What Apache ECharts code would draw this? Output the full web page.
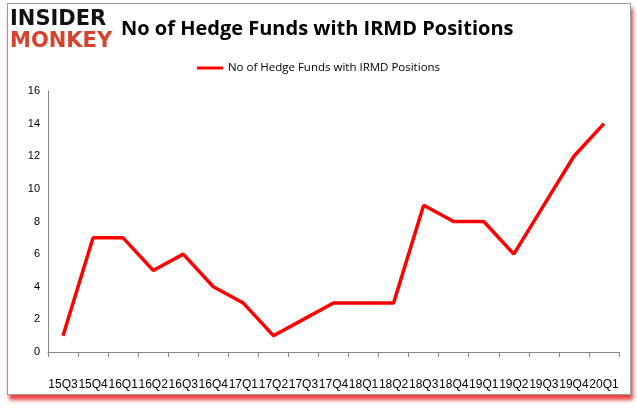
<!DOCTYPE html>
<html><head><meta charset="utf-8">
<script src="https://cdn.jsdelivr.net/npm/echarts@6/dist/echarts.min.js"></script>
<style>
html,body{margin:0;padding:0;background:#fff;}
#frame{position:absolute;left:7px;top:3px;width:622px;height:390px;border:1px solid #9a9a9a;box-shadow:2px 5px 4px rgba(230,0,0,0.75);background:#fff;}
#c{position:absolute;left:0;top:0;width:637px;height:408px;}
</style></head>
<body>
<div id="frame"></div>
<div id="c"></div>
<script>
const categories = ["15Q3","15Q4","16Q1","16Q2","16Q3","16Q4","17Q1","17Q2","17Q3","17Q4","18Q1","18Q2","18Q3","18Q4","19Q1","19Q2","19Q3","19Q4","20Q1"];
const values = [1,7,7,5,6,4,3,1,2,3,3,3,9,8,8,6,9,12,14];
const seriesName = "No of Hedge Funds with IRMD Positions";
const chart = echarts.init(document.getElementById('c'), null, {renderer:'canvas'});
chart.setOption({
  animation:false,
  backgroundColor:'transparent',
  title:{text:'No of Hedge Funds with IRMD Positions',left:116,top:14,
    textStyle:{fontFamily:'Open Sans',fontWeight:'bold',fontSize:20,color:'#000'}},
  graphic:[
    {type:'text',left:10,top:9,style:{text:'INSIDER',fontFamily:'DejaVu Sans',fontWeight:'bold',fontSize:21,fill:'#111'}},
    {type:'text',left:10,top:31,style:{text:'MONKEY',fontFamily:'DejaVu Sans',fontWeight:'bold',fontSize:21,fill:'#d8412b'}}
  ],
  legend:{top:57,left:'center',itemWidth:26,itemHeight:3,itemGap:3,
    data:[{name:seriesName,icon:'rect'}],
    textStyle:{fontFamily:'Open Sans',fontSize:11.5,color:'#000'}},
  grid:{left:48,right:18,top:91,bottom:56},
  xAxis:{type:'category',data:categories,boundaryGap:true,
    axisLine:{lineStyle:{color:'#888'}},
    axisTick:{show:true,alignWithLabel:false,lineStyle:{color:'#888'}},
    axisLabel:{interval:0,margin:27,fontFamily:'Liberation Sans',fontSize:12,color:'#000'}},
  yAxis:{type:'value',min:0,max:16,interval:2,
    axisLine:{show:true,lineStyle:{color:'#888'}},
    axisTick:{show:false},
    splitLine:{show:false},
    axisLabel:{fontFamily:'Liberation Sans',fontSize:11,color:'#000',margin:8}},
  series:[{name:seriesName,type:'line',data:values,showSymbol:false,symbol:'none',
    lineStyle:{color:'#ff0000',width:3.5},itemStyle:{color:'#ff0000'}}]
});
</script>
</body></html>
